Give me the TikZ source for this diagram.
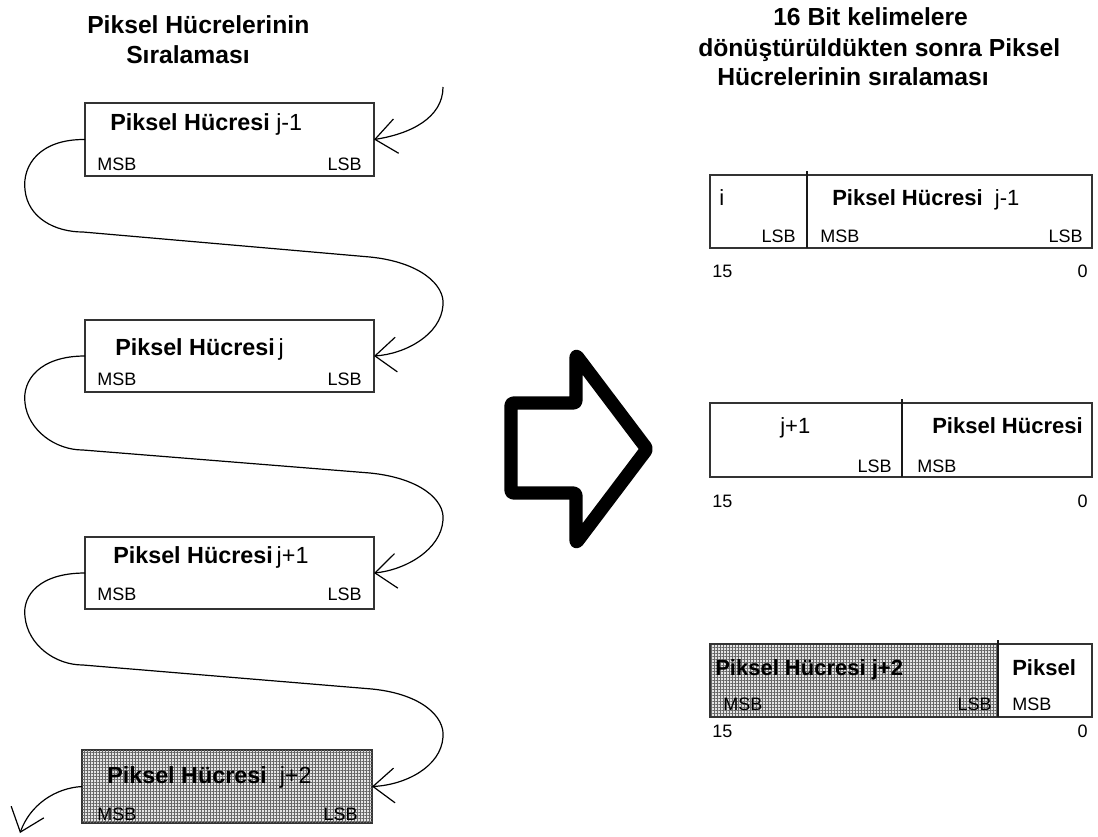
\documentclass[tikz,border=0pt]{standalone}
\usepackage{fontspec}
\setmainfont{Liberation Sans}
\usetikzlibrary{arrows.meta,patterns.meta}

\begin{document}
\begin{tikzpicture}[x=0.75pt,y=-0.75pt,
  cell/.style={draw=black!80, line width=1.4pt, inner sep=0pt, outer sep=0pt,
    minimum width=216.75pt, minimum height=54.5pt},
  shaded/.style={fill=gray!20, postaction={pattern={Hatch[angle=0,distance=2.25pt,line width=0.55pt]}, pattern color=black!60}},
  heading/.style={font=\fontsize{18.5}{21}\selectfont\bfseries, inner sep=0pt, anchor=base west},
  cellname/.style={font=\fontsize{17.5}{20}\selectfont\bfseries, inner sep=0pt, anchor=base west},
  wordname/.style={font=\fontsize{16.5}{19}\selectfont\bfseries, inner sep=0pt, anchor=base west},
  bitw/.style={font=\fontsize{13.5}{15}\selectfont, inner sep=0pt, anchor=base west},
  bite/.style={font=\fontsize{13.5}{15}\selectfont, inner sep=0pt, anchor=base east},
  link/.style={line width=0.9pt, -{Straight Barb[length=16pt,width=26pt,line width=0.9pt]}},
  divider/.style={line width=1.9pt, draw=black!90},
]
\useasboundingbox (0,0) rectangle (1098,836);

% ---------- left column: pixel cells in order ----------
\node[heading] (tl1) at (87,33) {Piksel Hücrelerinin};
\node[heading] (tl2) at (126,63) {Sıralaması};

\node[cell] (b1) at (229.5,139.5) {};
\node[cell] (b2) at (229.5,356) {};
\node[cell] (b3) at (229.5,573) {};
\node[cell, shaded, minimum width=217.5pt] (b4) at (227,786.5) {};

\node[cellname] (n1) at (110,130) {Piksel Hücresi \mdseries j-1};
\node[bitw] (m1) at (97,170) {MSB};
\node[bite] (l1) at (362,170) {LSB};

\node[cellname] (n2) at (115,355) {Piksel Hücresi\,\mdseries j};
\node[bitw] (m2) at (97,385) {MSB};
\node[bite] (l2) at (362,385) {LSB};

\node[cellname] (n3) at (113,563) {Piksel Hücresi\,\mdseries j+1};
\node[bitw] (m3) at (97,600) {MSB};
\node[bite] (l3) at (362,600) {LSB};

\node[cellname] (n4) at (107,783) {Piksel Hücresi \ \mdseries j+2};
\node[bitw] (m4) at (97,820) {MSB};
\node[bite] (l4) at (358,820) {LSB};

% serpentine links between consecutive cells
\coordinate (start) at (443,87);
\coordinate (tail) at (20,833);
\draw[link] (start) .. controls (443,118) and (410,134) .. (b1.east);
\draw[link] (b1.west) .. controls (40,139) and (22,165) .. (25,190)
  .. controls (28,218) and (55,232) .. (83,232) -- (370,257)
  .. controls (420,262) and (445,285) .. (443,305)
  .. controls (441,335) and (405,354) .. (b2.east);
\draw[link] (b2.west) .. controls (40,356) and (22,380) .. (25,403)
  .. controls (28,430) and (55,450) .. (83,450) -- (370,473)
  .. controls (420,478) and (445,500) .. (443,520)
  .. controls (441,550) and (405,570) .. (b3.east);
\draw[link] (b3.west) .. controls (40,573) and (22,595) .. (25,617)
  .. controls (28,645) and (55,665) .. (83,665) -- (372,689)
  .. controls (422,694) and (445,717) .. (443,737)
  .. controls (441,767) and (405,785) .. (b4.east);
\draw[link] (b4.west) .. controls (55,788) and (30,805) .. (tail);

% ---------- block arrow ----------
\draw[line width=10pt, line join=round, rounded corners=2pt]
  (511,403) -- (576,403) -- (576,355) -- (647,449) -- (576,543)
  -- (576,493) -- (511,493) -- cycle;

% ---------- right column: 16-bit words ----------
\node[heading] (tr1) at (773,25) {16 Bit kelimelere};
\node[heading] (tr2) at (698,56) {dönüştürüldükten sonra Piksel};
\node[heading] (tr3) at (717,85) {Hücrelerinin sıralaması};

% word 1
\draw[line width=1.4pt, draw=black!80] (710,175) rectangle (1092,248);
\draw[divider] (807,171) -- (807,248);
\node[wordname, font=\fontsize{16.5}{19}\selectfont] (w1a) at (719,205) {i};
\node[wordname] (w1b) at (832,205) {Piksel Hücresi \ \mdseries j-1};
\node[bite] (w1c) at (796,242) {LSB};
\node[bitw] (w1d) at (820,242) {MSB};
\node[bite] (w1e) at (1083,242) {LSB};
\node[bitw] (w1f) at (712,277) {15};
\node[bite] (w1g) at (1088,277) {0};

% word 2
\draw[line width=1.4pt, draw=black!80] (710,403) rectangle (1092,477);
\draw[divider] (902,399) -- (902,477);
\node[wordname, font=\fontsize{16.5}{19}\selectfont] (w2a) at (780,433) {j+1};
\node[wordname] (w2b) at (932,433) {Piksel Hücresi};
\node[bite] (w2c) at (892,472) {LSB};
\node[bitw] (w2d) at (917,472) {MSB};
\node[bitw] (w2f) at (712,507) {15};
\node[bite] (w2g) at (1088,507) {0};

% word 3
\fill[shaded] (710,644) rectangle (998,717);
\draw[line width=1.4pt, draw=black!80] (710,644) rectangle (1092,717);
\draw[divider] (998,640) -- (998,717);
\node[wordname] (w3a) at (715,675) {Piksel Hücresi j+2};
\node[bitw] (w3b) at (723,710) {MSB};
\node[bite] (w3c) at (992,710) {LSB};
\node[wordname] (w3d) at (1012,675) {Piksel};
\node[bitw] (w3e) at (1012,710) {MSB};
\node[bitw] (w3f) at (712,737) {15};
\node[bite] (w3g) at (1088,737) {0};
\end{tikzpicture}
\end{document}
